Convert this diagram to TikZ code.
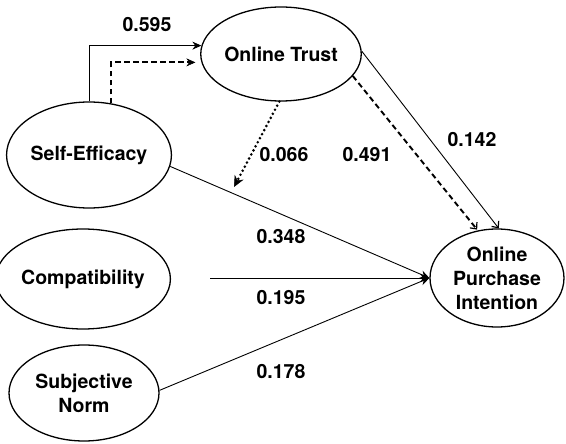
\documentclass[tikz,border=0pt]{standalone}
\usepackage{fontspec}
\setmainfont{TeX Gyre Heros}
\usetikzlibrary{shapes.geometric,arrows.meta}
\tikzset{
  construct/.style={ellipse, draw, line width=1.3pt, inner sep=0pt, align=center,
    font=\fontsize{19.5}{24}\selectfont\bfseries},
  coef/.style={font=\fontsize{19.5}{22}\selectfont\bfseries, inner sep=0pt},
  path/.style={line width=0.9pt, -{Stealth[length=9pt,width=8pt]}},
  dashpath/.style={line width=1.9pt, dash pattern=on 5.5pt off 3.5pt, -{Stealth[length=9pt,width=8pt,line width=0.5pt]}},
  dotpath/.style={line width=2.9pt, line cap=round, dash pattern=on 0pt off 4.6pt,
    -{Stealth[length=11pt,width=10pt,line width=0.5pt]}},
  barb/.style={-{Straight Barb[length=5pt,width=9pt,line width=1.2pt]}},
}
\begin{document}
\begin{tikzpicture}[x=1pt,y=-1pt]
\useasboundingbox (0,0) rectangle (566,444);
\node[construct, minimum width=144pt, minimum height=94pt] (ot) at (281,54) {Online Trust};
\node[construct, minimum width=162pt, minimum height=106pt] (se) at (89,155) {Self-Efficacy};
\node[construct, minimum width=150pt, minimum height=100pt] (co) at (83,279) {Compatibility};
\node[construct, minimum width=150pt, minimum height=96pt] (sn) at (84,393) {Subjective\\Norm};
\node[construct, minimum width=134pt, minimum height=98pt] (opi) at (497,278) {Online\\Purchase\\Intention};
\coordinate (costart) at (210,278);
\coordinate (mod) at (234,187);
% paths
\draw[path] (se.north) |- (ot.174);
\draw[dashpath, shorten >=6pt] (se.67) |- (ot.186);
\draw[dotpath] (ot.268) -- (mod);
\draw[dashpath, barb, shorten >=1pt] (ot.-17) -- (opi.112);
\draw[path, barb] (ot.2) -- (opi.88);
\draw[path] (se.-8) -- (opi.west);
\draw[path] (costart) -- (opi.west);
\draw[path] (sn.2) -- (opi.west);
% labels
\node[coef] (l595) at (147,25) {0.595};
\node[coef] (l066) at (284,155) {0.066};
\node[coef] (l491) at (367,155) {0.491};
\node[coef] (l142) at (472,140) {0.142};
\node[coef] (l348) at (281,237) {0.348};
\node[coef] (l195) at (281,298) {0.195};
\node[coef] (l178) at (281,372) {0.178};
\end{tikzpicture}
\end{document}
